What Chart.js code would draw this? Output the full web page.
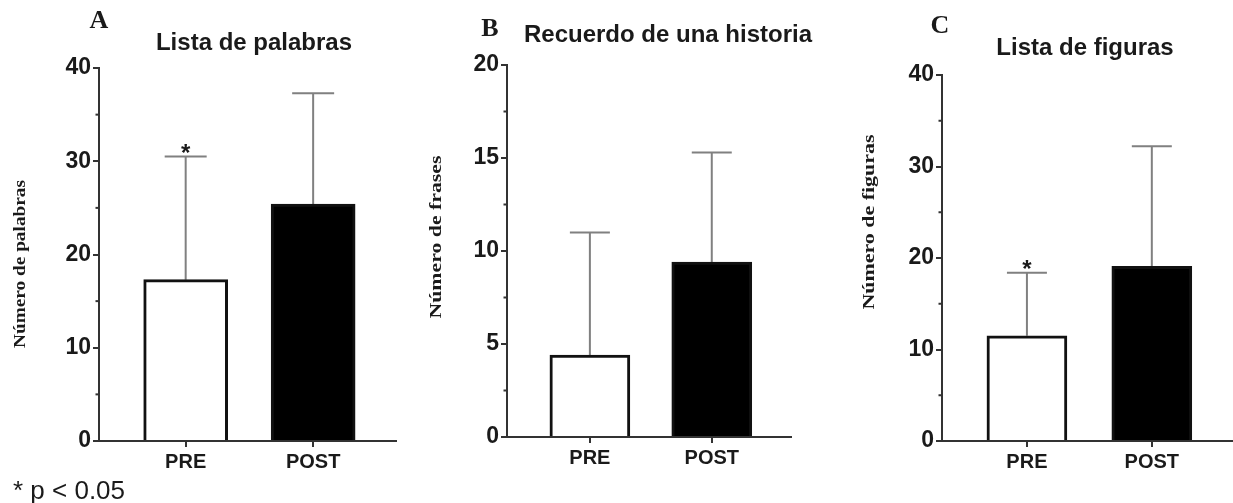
<!DOCTYPE html>
<html>
<head>
<meta charset="utf-8">
<script src="https://cdn.jsdelivr.net/npm/chart.js@4"></script>
<style>
  html, body { margin: 0; padding: 0; background: #fff; }
  #wrap { position: relative; width: 1233px; height: 503px; overflow: hidden; }
  .panel { position: absolute; top: 0; height: 503px; }
</style>
</head>
<body>
<div id="wrap">
  <div class="panel" style="left:0;width:400px"><canvas id="chartA"></canvas></div>
  <div class="panel" style="left:400px;width:420px"><canvas id="chartB"></canvas></div>
  <div class="panel" style="left:820px;width:413px"><canvas id="chartC"></canvas></div>
</div>
<script>
// categorias del eje x
const categorias = ['PRE', 'POST'];

// A: lista de palabras
const palabrasMedia = [17.3, 25.4];
const palabrasDE = [13.2, 11.9];
const palabrasSig = [true, false];
const palabrasTicks = [0, 10, 20, 30, 40];

// B: recuerdo de una historia
const frasesMedia = [4.4, 9.4];
const frasesDE = [6.6, 5.9];
const frasesSig = [false, false];
const frasesTicks = [0, 5, 10, 15, 20];

// C: lista de figuras
const figurasMedia = [11.5, 19.1];
const figurasDE = [6.9, 13.1];
const figurasSig = [true, false];
const figurasTicks = [0, 10, 20, 30, 40];

const SANS = "'Liberation Sans', Arial, sans-serif";
const SERIF = "'Liberation Serif', 'Times New Roman', serif";
const INK = '#1a1a1a';
const AXIS = '#333';

// error bars, asterisks, minor ticks and the loose text
const decor = {
  id: 'decor',
  beforeDatasetsDraw(chart, args, o) {
    const ctx = chart.ctx;
    const y = chart.scales.y;
    const meta = chart.getDatasetMeta(0);
    ctx.save();
    ctx.strokeStyle = '#808080';
    ctx.lineWidth = 2;
    meta.data.forEach((bar, i) => {
      const top = y.getPixelForValue(o.means[i] + o.sd[i]);
      const half = bar.width / 4;
      ctx.beginPath();
      ctx.moveTo(bar.x, bar.y);
      ctx.lineTo(bar.x, top);
      ctx.moveTo(bar.x - half, top);
      ctx.lineTo(bar.x + half, top);
      ctx.stroke();
      if (o.sig[i]) {
        ctx.fillStyle = INK;
        ctx.font = 'bold 24px ' + SANS;
        ctx.textAlign = 'center';
        ctx.textBaseline = 'alphabetic';
        ctx.fillText('*', bar.x, top + 4);
      }
    });
    ctx.restore();
  },
  afterDraw(chart, args, o) {
    const ctx = chart.ctx;
    const y = chart.scales.y;
    const left = chart.chartArea.left;
    ctx.save();
    // minor ticks
    ctx.strokeStyle = AXIS;
    ctx.lineWidth = 2;
    for (let i = 0; i < o.ticks.length - 1; i++) {
      const py = y.getPixelForValue((o.ticks[i] + o.ticks[i + 1]) / 2);
      ctx.beginPath();
      ctx.moveTo(left - 3.5, py);
      ctx.lineTo(left, py);
      ctx.stroke();
    }
    ctx.fillStyle = INK;
    ctx.textAlign = 'center';
    ctx.textBaseline = 'middle';
    // panel letter
    ctx.font = 'bold 26px ' + SERIF;
    ctx.fillText(o.letter, o.letterPos[0], o.letterPos[1]);
    // title
    ctx.font = 'bold 24px ' + SANS;
    ctx.fillText(o.title, o.titlePos[0], o.titlePos[1]);
    // y axis title, stretched to the length seen in the figure
    ctx.font = 'bold 17px ' + SERIF;
    const w = ctx.measureText(o.yTitle).width;
    ctx.translate(o.yTitlePos[0], o.yTitlePos[1]);
    ctx.rotate(-Math.PI / 2);
    ctx.scale(o.yTitleLen / w, 1);
    ctx.fillText(o.yTitle, 0, 0);
    ctx.restore();
    if (o.note) {
      ctx.save();
      ctx.fillStyle = INK;
      ctx.font = '26px ' + SANS;
      ctx.textAlign = 'left';
      ctx.textBaseline = 'middle';
      ctx.fillText(o.note, 13, 492);
      ctx.restore();
    }
  }
};

function panel(id, means, sd, sig, ticks, p) {
  return new Chart(document.getElementById(id), {
    type: 'bar',
    data: {
      datasets: [{
        data: means.map((m, i) => ({ x: i + 1, y: m })),
        backgroundColor: ['#ffffff', '#000000'],
        borderColor: '#111',
        borderWidth: 3,
        borderSkipped: 'start',
        barThickness: p.barW
      }]
    },
    options: {
      responsive: true,
      maintainAspectRatio: false,
      animation: false,
      layout: { padding: { left: 0, right: p.padRight, top: p.top, bottom: 0 } },
      plugins: {
        legend: { display: false },
        tooltip: { enabled: false },
        decor: {
          means: means, sd: sd, sig: sig, ticks: ticks,
          letter: p.letter, letterPos: p.letterPos,
          title: p.title, titlePos: p.titlePos,
          yTitle: p.yTitle, yTitlePos: p.yTitlePos, yTitleLen: p.yTitleLen,
          note: p.note
        }
      },
      scales: {
        x: {
          type: 'linear',
          min: 0.32,
          max: 2.65,
          offset: false,
          afterBuildTicks: s => { s.ticks = categorias.map((c, i) => ({ value: i + 1 })); },
          afterFit: s => { s.height = 503 - p.bottom; },
          ticks: {
            callback: v => categorias[v - 1],
            font: { family: SANS, size: 20, weight: 'bold' },
            color: INK,
            padding: 3,
            maxRotation: 0,
            autoSkip: false
          },
          grid: { drawOnChartArea: false, offset: false, tickLength: 6, color: AXIS, lineWidth: 2 },
          border: { color: AXIS, width: 2 }
        },
        y: {
          min: 0,
          max: ticks[ticks.length - 1],
          afterBuildTicks: s => { s.ticks = ticks.map(v => ({ value: v })); },
          afterFit: s => { s.width = p.axisX; },
          ticks: {
            font: { family: SANS, size: 23, weight: 'bold' },
            color: INK,
            padding: 2
          },
          grid: { drawOnChartArea: false, tickLength: 6, color: AXIS, lineWidth: 2 },
          border: { color: AXIS, width: 2 }
        }
      }
    },
    plugins: [decor]
  });
}

const chartA = panel('chartA', palabrasMedia, palabrasDE, palabrasSig, palabrasTicks, {
  axisX: 99, padRight: 4, top: 68, bottom: 441, barW: 84,
  letter: 'A', letterPos: [99, 21],
  title: 'Lista de palabras', titlePos: [254, 43],
  yTitle: 'Número de palabras', yTitlePos: [21, 264], yTitleLen: 168,
  note: '* p < 0.05'
});

const chartB = panel('chartB', frasesMedia, frasesDE, frasesSig, frasesTicks, {
  axisX: 107, padRight: 29, top: 65, bottom: 437, barW: 80,
  letter: 'B', letterPos: [90, 29],
  title: 'Recuerdo de una historia', titlePos: [268, 35],
  yTitle: 'Número de frases', yTitlePos: [37, 237], yTitleLen: 163
});

const chartC = panel('chartC', figurasMedia, figurasDE, figurasSig, figurasTicks, {
  axisX: 122, padRight: 0, top: 75, bottom: 441, barW: 80,
  letter: 'C', letterPos: [120, 26],
  title: 'Lista de figuras', titlePos: [265, 48],
  yTitle: 'Número de figuras', yTitlePos: [50, 222], yTitleLen: 175
});
</script>
</body>
</html>
